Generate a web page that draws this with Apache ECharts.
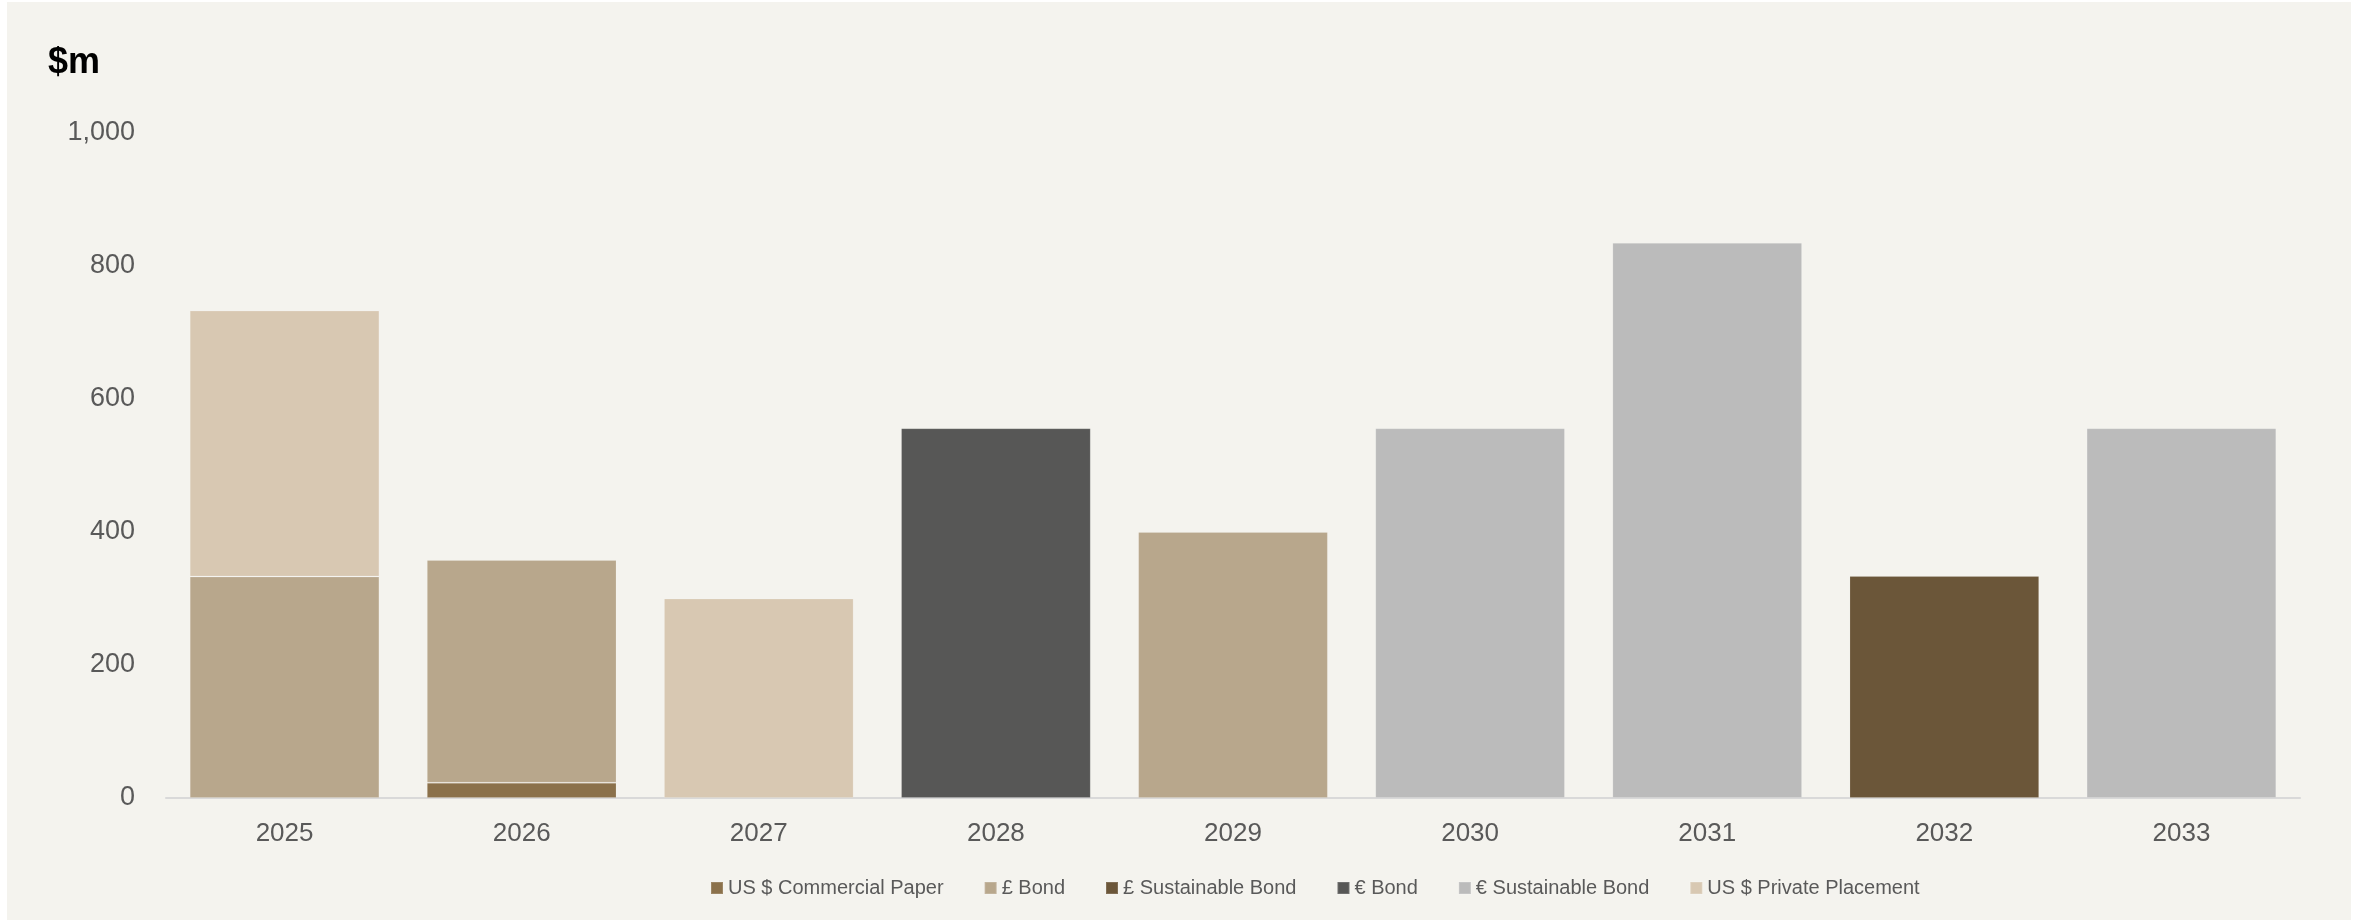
<!DOCTYPE html>
<html>
<head>
<meta charset="UTF-8">
<title>Debt maturity profile</title>
<script src="https://cdn.jsdelivr.net/npm/echarts@6/dist/echarts.min.js"></script>
<style>
  body { margin: 0; background: #ffffff; }
  #main { position: absolute; left: 7px; top: 2px; width: 2344px; height: 918px; background: #F4F3EE; }
</style>
</head>
<body>
<div id="main"></div>
<script type="text/javascript">
// years on the x axis
var years = ['2025', '2026', '2027', '2028', '2029', '2030', '2031', '2032', '2033'];

// $m per instrument
var usCommercialPaper  = [0, 23, 0, 0, 0, 0, 0, 0, 0];
var gbpBond            = [333, 335, 0, 0, 400, 0, 0, 0, 0];
var gbpSustainableBond = [0, 0, 0, 0, 0, 0, 0, 334, 0];
var eurBond            = [0, 0, 0, 556, 0, 0, 0, 0, 0];
var eurSustainableBond = [0, 0, 0, 0, 0, 556, 835, 0, 556];
var usPrivatePlacement = [400, 0, 300, 0, 0, 0, 0, 0, 0];

var seriesNames = ['US $ Commercial Paper', '£ Bond', '£ Sustainable Bond', '€ Bond', '€ Sustainable Bond', 'US $ Private Placement'];
var seriesData = [usCommercialPaper, gbpBond, gbpSustainableBond, eurBond, eurSustainableBond, usPrivatePlacement];
var colors = ['#8B714B', '#B8A78C', '#6B5639', '#575756', '#BBBBBB', '#D8C8B2'];

var myChart = echarts.init(document.getElementById('main'));

var series = seriesNames.map(function (name, i) {
    return {
        name: name,
        type: 'bar',
        stack: 'total',
        barCategoryGap: '20%',
        itemStyle: { color: colors[i], borderColor: 'rgba(255,255,255,0.15)', borderWidth: 1 },
        data: seriesData[i].map(function (v) { return v === 0 ? null : v; })
    };
});

var option = {
    animation: false,
    color: colors,
    textStyle: { fontFamily: 'Liberation Sans' },
    title: {
        text: '$m',
        left: 36,
        top: 38,
        textStyle: { fontSize: 36, fontWeight: 'bold', color: '#000000', fontFamily: 'Liberation Sans' }
    },
    legend: {
        left: 698,
        top: 871,
        icon: 'rect',
        itemWidth: 12,
        itemHeight: 12,
        itemGap: 40,
        textStyle: { fontSize: 20, color: '#595959' },
        data: seriesNames
    },
    grid: {
        left: 159,
        right: 51,
        top: 131,
        bottom: 122,
        containLabel: false
    },
    xAxis: {
        type: 'category',
        data: years,
        axisLine: { lineStyle: { color: '#D9D9D9', width: 2 } },
        axisTick: { show: false },
        axisLabel: { fontSize: 26, color: '#595959', margin: 23 }
    },
    yAxis: {
        type: 'value',
        min: 0,
        max: 1000,
        interval: 200,
        axisLine: { show: false },
        axisTick: { show: false },
        splitLine: { show: false },
        axisLabel: {
            fontSize: 27,
            color: '#595959',
            margin: 31,
            formatter: function (v) { return v.toLocaleString('en-US'); }
        }
    },
    series: series
};

myChart.setOption(option);
</script>
</body>
</html>
